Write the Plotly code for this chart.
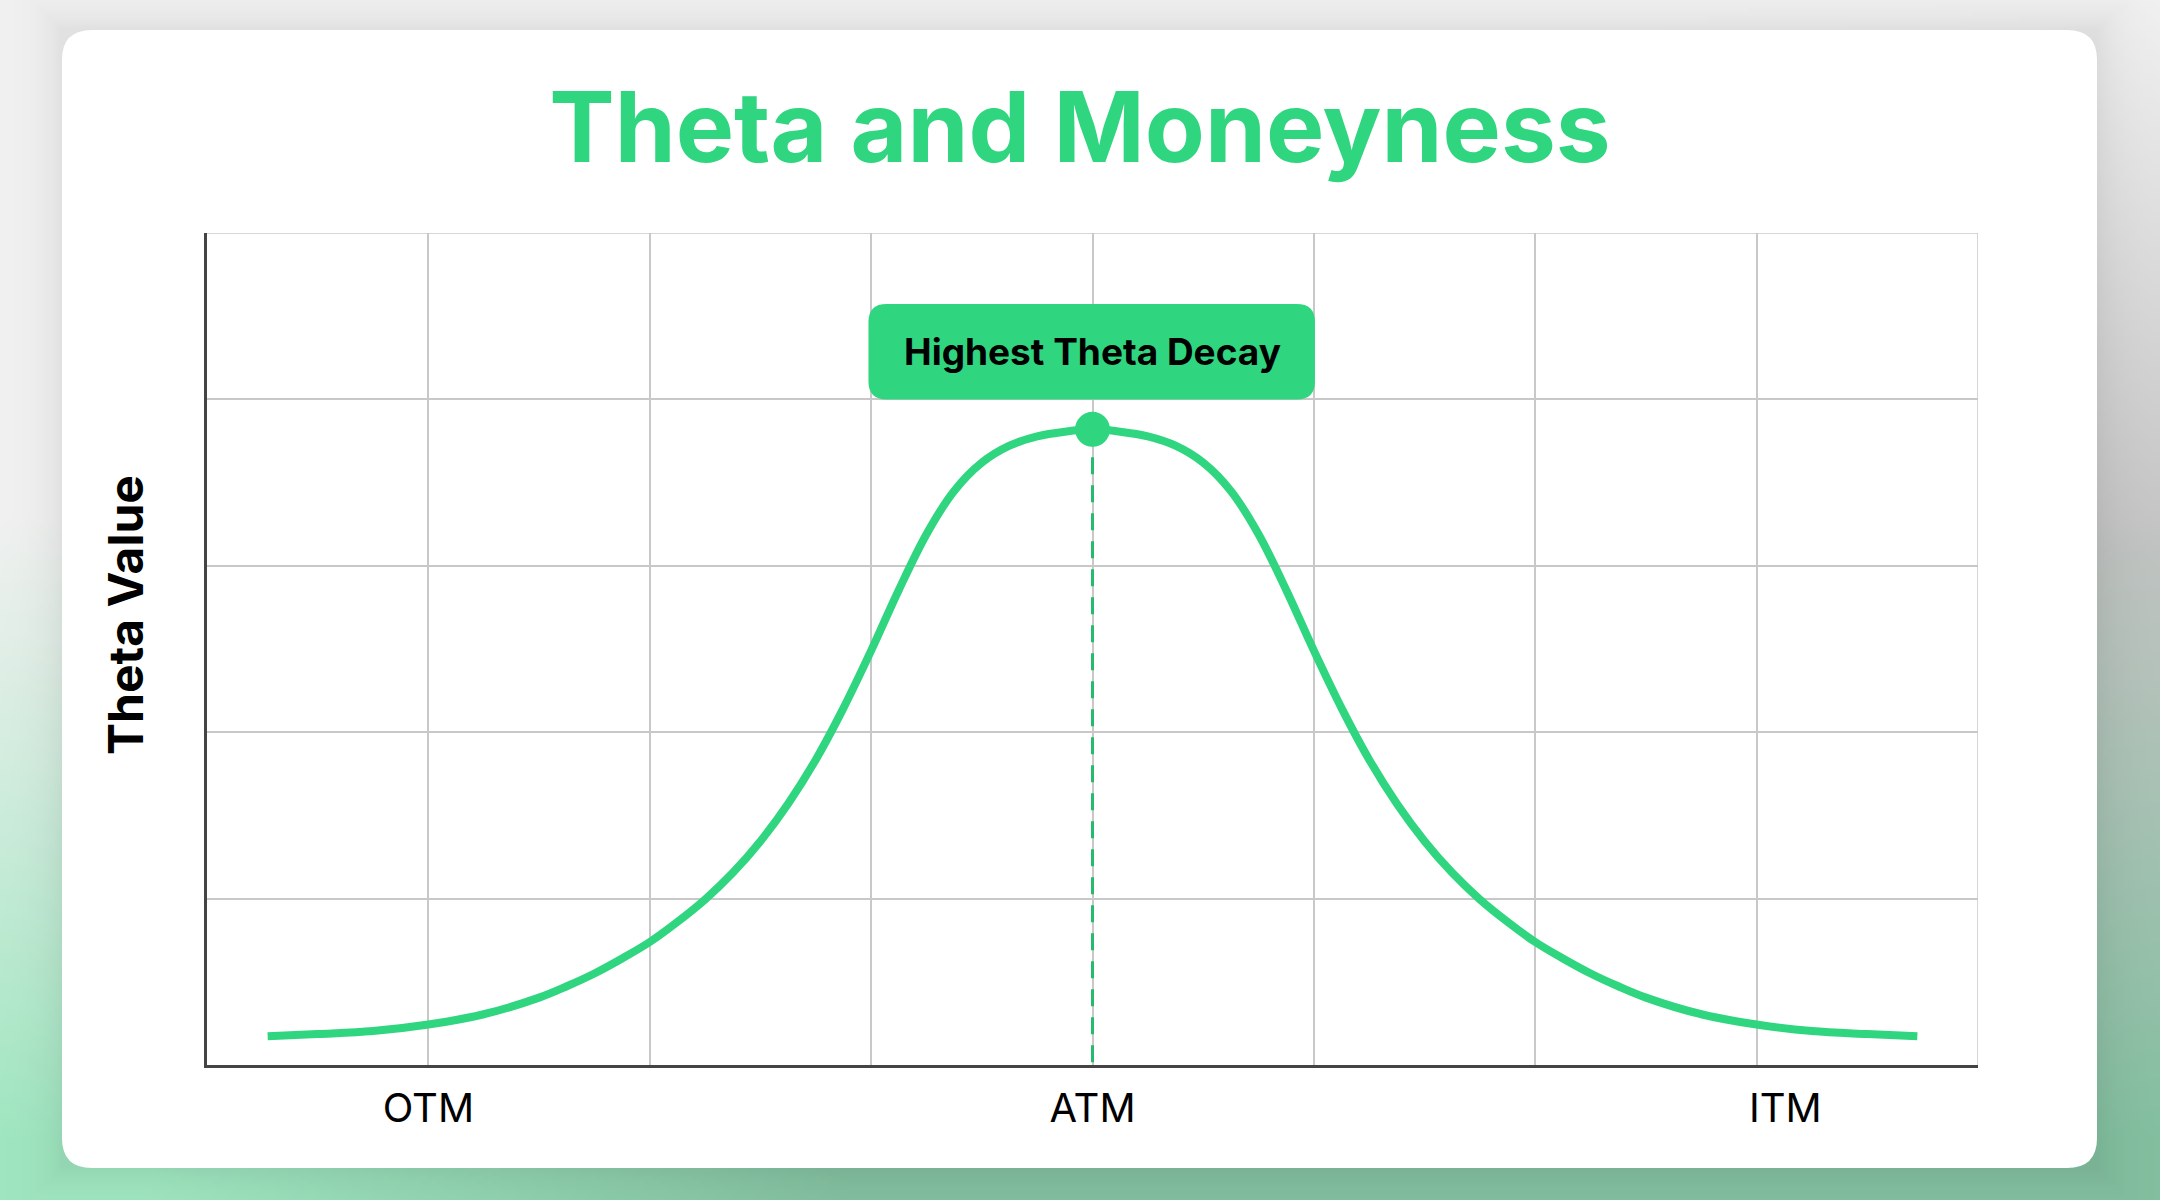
import base64
import struct
import zlib

import numpy as np
import plotly.graph_objects as go

W, H = 2160, 1200

# Theta curve (x in grid columns 0-8, y in grid rows 0-5)
moneyness = [0.274, 0.5, 0.75, 1.0, 1.25, 1.5, 1.625, 1.75, 1.875, 2.0, 2.125, 2.25,
             2.375, 2.5, 2.625, 2.75, 2.875, 3.0, 3.125, 3.25, 3.375, 3.5, 3.625, 3.75,
             3.875, 4.0,
             4.125, 4.25, 4.375, 4.5, 4.625, 4.75, 4.875, 5.0, 5.125, 5.25, 5.375,
             5.5, 5.625, 5.75, 5.875, 6.0, 6.125, 6.25, 6.375, 6.5, 6.75, 7.0, 7.25,
             7.5, 7.726]
theta = [0.173, 0.186, 0.204, 0.243, 0.305, 0.405, 0.473, 0.55, 0.64, 0.739, 0.86, 0.995,
         1.155, 1.345, 1.57, 1.835, 2.145, 2.49, 2.855, 3.19, 3.45, 3.62, 3.722, 3.778,
         3.806, 3.82,
         3.806, 3.778, 3.722, 3.62, 3.45, 3.19, 2.855, 2.49, 2.145, 1.835, 1.57,
         1.345, 1.155, 0.995, 0.86, 0.739, 0.64, 0.55, 0.473, 0.405, 0.305, 0.243, 0.204,
         0.186, 0.173]

peak_x = [4.0]
peak_theta = [3.82]

tick_pos = [1, 4, 7.13]
tick_text = ["OTM", "ATM", "ITM"]

title_text = "Theta and Moneyness"
y_title = "Theta Value"
peak_label = "Highest Theta Decay"

GREEN = "#2fd67f"
DASH_GREEN = "#27b96d"
GRID = "#c8c8c8"
AXIS = "#444444"


def png_uri(rgb):
    h, w, _ = rgb.shape
    raw = b"".join(b"\x00" + rgb[i].tobytes() for i in range(h))

    def chunk(tag, data):
        return (struct.pack(">I", len(data)) + tag + data +
                struct.pack(">I", zlib.crc32(tag + data) & 0xffffffff))

    png = (b"\x89PNG\r\n\x1a\n" +
           chunk(b"IHDR", struct.pack(">IIBBBBB", w, h, 8, 2, 0, 0, 0)) +
           chunk(b"IDAT", zlib.compress(raw, 9)) +
           chunk(b"IEND", b""))
    return "data:image/png;base64," + base64.b64encode(png).decode()


# soft grey -> green page background behind the card
step = 4
X, Y = np.meshgrid(np.arange(0, W, step) + step / 2, np.arange(0, H, step) + step / 2)
fx = np.clip((X - 1650) / 450, 0, 1)
fy = np.clip(Y / 550, 0, 1)
grey = 241 - 46 * fx * fy
grey = np.stack([grey, grey + 1, grey], axis=-1)
g = np.clip((X - 150) / 700, 0, 1)[..., None]
mint = np.array([160, 231, 193])
deep = np.array([131, 192, 160])
green = mint * (1 - g) + deep * g
t = (np.clip((Y - 520) / 620, 0, 1) ** 1.1)[..., None]
bg = grey * (1 - t) + green * t
dx = np.maximum(np.maximum(62 - X, X - 2097), 0)
dy = np.maximum(np.maximum(30 - Y, Y - 1168), 0)
d = np.maximum(dx, dy)
bg = bg * (1 - 0.07 * np.exp(-d / 22))[..., None]
bg_uri = png_uri(np.clip(bg, 0, 255).astype(np.uint8))


def rounded(x0, y0, x1, y1, rx, ry):
    return (f"M{x0 + rx},{y0} L{x1 - rx},{y0} Q{x1},{y0} {x1},{y0 + ry} "
            f"L{x1},{y1 - ry} Q{x1},{y1} {x1 - rx},{y1} L{x0 + rx},{y1} "
            f"Q{x0},{y1} {x0},{y1 - ry} L{x0},{y0 + ry} Q{x0},{y0} {x0 + rx},{y0} Z")


fig = go.Figure()

# dashed drop line from the peak
fig.add_trace(go.Scatter(
    x=[peak_x[0], peak_x[0]], y=[peak_theta[0], 0],
    mode="lines", line=dict(color=DASH_GREEN, width=3, dash="17px,11px"),
    hoverinfo="skip", showlegend=False,
))

fig.add_trace(go.Scatter(
    x=moneyness, y=theta, mode="lines",
    line=dict(color=GREEN, width=8, shape="spline", smoothing=1.0),
    showlegend=False,
))

fig.add_trace(go.Scatter(
    x=peak_x, y=peak_theta, mode="markers",
    marker=dict(color=GREEN, size=35), showlegend=False,
))

# invisible trace so the label axis is drawn
fig.add_trace(go.Scatter(x=tick_pos, y=[0, 0, 0], xaxis="x2", mode="markers",
                         marker=dict(opacity=0), hoverinfo="skip", showlegend=False))

shapes = [
    # white card
    dict(type="path", xref="paper", yref="paper", layer="below",
         path=rounded(62 / W, 1 - 30 / H, 2097 / W, 1 - 1168 / H, 30 / W, -30 / H),
         fillcolor="white", line=dict(width=0)),
    # label box
    dict(type="path", xref="x", yref="y", layer="above",
         path=rounded(2.988, 4.0, 5.005, 4.573, 0.082, 0.108),
         fillcolor=GREEN, line=dict(width=0)),
    # top and right frame
    dict(type="line", xref="x", yref="y", x0=0, x1=8, y0=5, y1=5,
         line=dict(color=GRID, width=1.5), layer="below"),
    dict(type="line", xref="x", yref="y", x0=8, x1=8, y0=0, y1=5,
         line=dict(color=GRID, width=1.5), layer="below"),
]

annotations = [
    dict(text=peak_label, x=4.0, y=4.2865, xref="x", yref="y", showarrow=False,
         xanchor="center", yanchor="middle",
         font=dict(family="Inter", size=37, color="black", weight="bold")),
    dict(text=y_title, x=125 / W, y=1 - 615 / H, xref="paper", yref="paper",
         showarrow=False, textangle=-90, xanchor="center", yanchor="middle",
         font=dict(family="Inter", size=48, color="black", weight="bold")),
]

fig.update_layout(
    width=W, height=H,
    margin=dict(l=0, r=0, t=0, b=0, pad=0),
    paper_bgcolor="#f0f0f0",
    plot_bgcolor="rgba(0,0,0,0)",
    images=[dict(source=bg_uri, xref="paper", yref="paper", x=0, y=1, sizex=1, sizey=1,
                 sizing="stretch", layer="below", xanchor="left", yanchor="top")],
    title=dict(text=title_text, x=0.5, xanchor="center", y=1 - 128 / H, yanchor="middle",
               font=dict(family="Inter", size=98, color=GREEN, weight="bold")),
    xaxis=dict(domain=[207 / W, 1978 / W], range=[0, 8], tick0=0, dtick=1,
               showgrid=True, gridcolor=GRID, gridwidth=1.5, zeroline=False,
               showticklabels=False, ticks="", showline=True, linecolor=AXIS,
               linewidth=3, fixedrange=True),
    xaxis2=dict(overlaying="x", anchor="y", side="bottom", range=[0, 8],
                tickvals=tick_pos, ticktext=tick_text, showgrid=False, zeroline=False,
                showline=False, ticks="", ticklabelstandoff=16,
                tickfont=dict(family="Inter", size=40, color="black")),
    yaxis=dict(domain=[135 / H, 967 / H], range=[0, 5], tick0=0, dtick=1,
               showgrid=True, gridcolor=GRID, gridwidth=1.5, zeroline=False,
               showticklabels=False, ticks="", showline=True, linecolor=AXIS,
               linewidth=3, fixedrange=True),
    shapes=shapes,
    annotations=annotations,
    showlegend=False,
)

fig.write_html("out.html", config={"displayModeBar": False},
               post_script="document.body.style.margin='0';document.body.style.overflow='hidden';")
